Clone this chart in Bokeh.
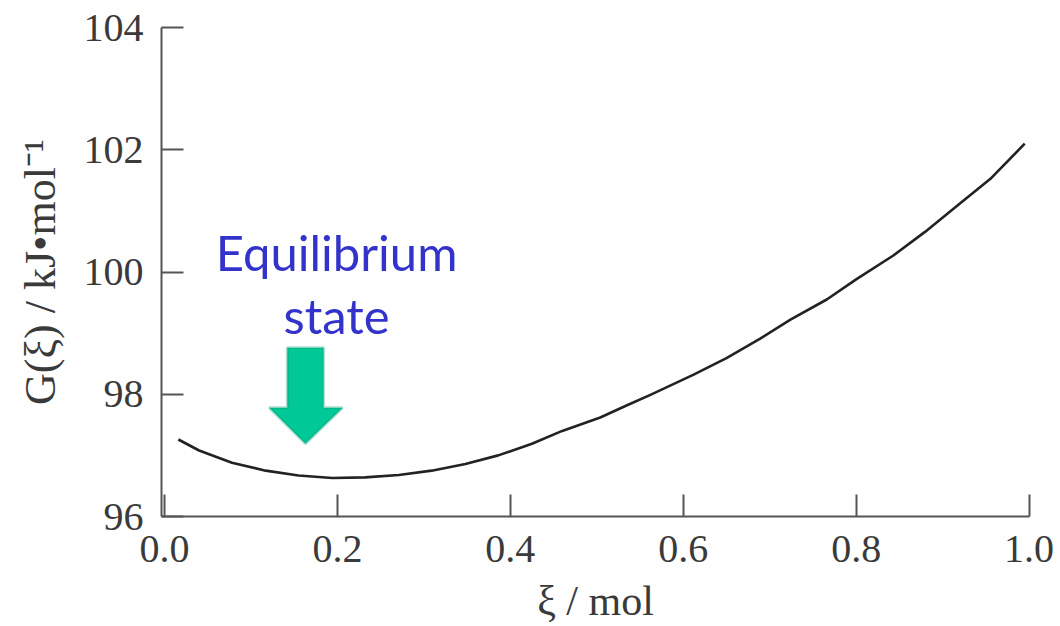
import math
from bokeh.plotting import figure
from bokeh.models import Range1d, FixedTicker, Label, PolyAnnotation
from bokeh.embed import file_html
from bokeh.resources import INLINE

# ---- data ----
xi = [0.016, 0.040, 0.078, 0.117, 0.155, 0.194, 0.232, 0.271, 0.309, 0.348,
      0.386, 0.425, 0.460, 0.504, 0.535, 0.562, 0.612, 0.650, 0.689, 0.724,
      0.766, 0.800, 0.843, 0.880, 0.920, 0.955, 0.995]
G = [97.26, 97.08, 96.88, 96.75, 96.67, 96.63, 96.64, 96.68, 96.75, 96.86,
     97.00, 97.19, 97.40, 97.62, 97.82, 97.99, 98.32, 98.59, 98.91, 99.22,
     99.55, 99.88, 100.27, 100.66, 101.12, 101.52, 102.10]
x_ticks = [0.0, 0.2, 0.4, 0.6, 0.8, 1.0]
x_tick_labels = ["0.0", "0.2", "0.4", "0.6", "0.8", "1.0"]
y_ticks = [96, 98, 100, 102, 104]
y_tick_labels = ["96", "98", "100", "102", "104"]

SERIF = "Liberation Serif"
TXT = "#3a3a3a"

p = figure(width=1060, height=626, output_backend="svg", toolbar_location=None,
           x_range=Range1d(-0.0035, 1.0005), y_range=Range1d(96, 104),
           min_border_left=161, min_border_right=31, min_border_top=27,
           min_border_bottom=110)
p.outline_line_color = None
p.xgrid.visible = False
p.ygrid.visible = False
p.background_fill_color = "white"
p.border_fill_color = "white"

for ax, ticks, labels in ((p.xaxis[0], x_ticks, x_tick_labels), (p.yaxis[0], y_ticks, y_tick_labels)):
    ax.ticker = FixedTicker(ticks=ticks)
    ax.major_label_overrides = {t: l for t, l in zip(ticks, labels)}
    ax.major_tick_in = 22
    ax.major_tick_out = 0
    ax.minor_tick_line_color = None
    ax.axis_line_color = "#555555"
    ax.axis_line_width = 2
    ax.major_tick_line_color = "#555555"
    ax.major_tick_line_width = 2
    ax.major_label_text_font = SERIF
    ax.major_label_text_font_size = "40px"
    ax.major_label_text_color = TXT
    ax.axis_label_text_font = SERIF
    ax.axis_label_text_font_style = "normal"
    ax.axis_label_text_color = TXT

p.xaxis.major_label_standoff = 19
p.yaxis.major_label_standoff = 18
p.xaxis.axis_label = "ξ / mol"
p.xaxis.axis_label_text_font_size = "42px"
p.xaxis.axis_label_standoff = 13
p.yaxis.axis_label = "G(ξ) / kJ•mol⁻¹"
p.yaxis.axis_label_text_font_size = "44px"
p.yaxis.axis_label_standoff = 16

p.line(xi, G, line_color="#222222", line_width=2.6, line_join="round")

# annotation
p.add_layout(Label(x=0.199, y=100.32, text="Equilibrium", text_font="Lato",
                   text_font_size="49px", text_color="#3333cc",
                   text_align="center", text_baseline="alphabetic"))
p.add_layout(Label(x=0.199, y=99.29, text="state", text_font="Lato",
                   text_font_size="49px", text_color="#3333cc",
                   text_align="center", text_baseline="alphabetic"))
arrow_x = [0.142, 0.184, 0.184, 0.206, 0.163, 0.121, 0.142]
arrow_y = [98.76, 98.76, 97.78, 97.78, 97.19, 97.78, 97.78]
p.add_layout(PolyAnnotation(xs=arrow_x, ys=arrow_y, fill_color="#00c896", fill_alpha=1.0,
                            line_color="#00986e", line_width=3))

open("out.html", "w").write(file_html(p, INLINE))
